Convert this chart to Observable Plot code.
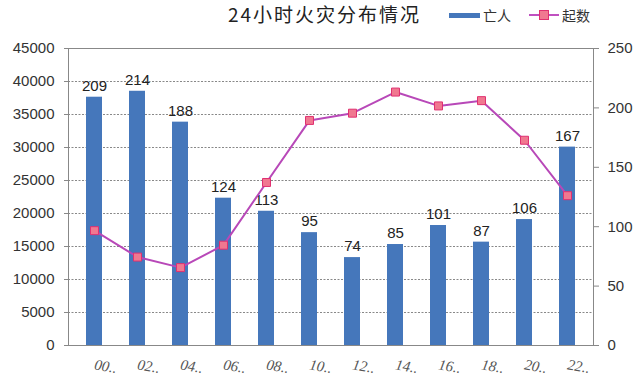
<!DOCTYPE html>
<html>
<head>
<meta charset="utf-8">
<script src="https://cdn.jsdelivr.net/npm/d3@7"></script>
<script src="https://cdn.jsdelivr.net/npm/@observablehq/plot@0.6"></script>
<style>
  body { margin: 0; background: #fff; font-family: "Liberation Sans", Arial, sans-serif; }
  #wrap { position: relative; width: 640px; height: 387px; }
  #title { position: absolute; left: 228px; top: 0px; font-family: "Noto Sans CJK SC", sans-serif; font-size: 19px; letter-spacing: 2px; color: #222; }
  #legend { position: absolute; left: 449px; top: 5px; font-family: "Noto Sans CJK SC", sans-serif; font-size: 14px; color: #333; display: flex; align-items: center; }
  .sw-bar { display: inline-block; width: 31px; height: 5px; background: #4577bb; margin-right: 3px; }
  .sw-line { display: inline-block; position: relative; width: 30px; height: 10px; margin-left: 18px; margin-right: 3px; }
  .sw-line::before { content: ""; position: absolute; left: 0; right: 0; top: 4px; height: 2px; background: #c050c0; }
  .sw-line::after { content: ""; position: absolute; left: 10px; top: 0; width: 8px; height: 8px; background: #f07890; border: 1px solid #e03070; }
  svg { position: absolute; left: 0; top: 0; }
</style>
</head>
<body>
<div id="wrap">
  <div id="chart"></div>
  <div id="title">24小时火灾分布情况</div>
  <div id="legend"><span class="sw-bar"></span>亡人<span class="sw-line"></span>起数</div>
</div>
<script>
const hours = ["00..", "02..", "04..", "06..", "08..", "10..", "12..", "14..", "16..", "18..", "20..", "22.."];
const deaths = [209, 214, 188, 124, 113, 95, 74, 85, 101, 87, 106, 167];
const fires = [17400, 13400, 11800, 15200, 24700, 34100, 35200, 38400, 36300, 37100, 31100, 22700];
const leftTicks = [0, 5000, 10000, 15000, 20000, 25000, 30000, 35000, 40000, 45000];
const rightTicks = [0, 50, 100, 150, 200, 250];

const k = 45000 / 250; // right axis → left axis units
const rows = hours.map((h, i) => ({hour: h, deaths: deaths[i], deathsY: deaths[i] * k, fires: fires[i]}));

const chart = Plot.plot({
  width: 640,
  height: 387,
  marginTop: 48,
  marginBottom: 42,
  marginLeft: 68,
  marginRight: 47,
  style: {fontFamily: "'Liberation Sans', Arial, sans-serif", background: "transparent"},
  x: {type: "band", domain: hours, paddingInner: 0.62, paddingOuter: 0.31},
  y: {domain: [0, 45000]},
  marks: [
    Plot.ruleY(leftTicks.slice(1, -1), {stroke: "#888", strokeDasharray: "2,1.5", strokeWidth: 1}),
    Plot.barY(rows, {x: "hour", y: "deathsY", fill: "#4577bb"}),
    Plot.text(rows, {x: "hour", y: "deathsY", text: d => String(d.deaths), dy: -11, fontSize: 15, fill: "#222"}),
    Plot.line(rows, {x: "hour", y: "fires", stroke: "#b848b8", strokeWidth: 2}),
    Plot.dot(rows, {x: "hour", y: "fires", symbol: "square", r: 4.5, fill: "#f07890", stroke: "#e03070", strokeWidth: 1}),
    Plot.frame({stroke: "#888"}),
    Plot.axisY({anchor: "left", ticks: leftTicks, tickFormat: d => String(d), tickSize: 4, tickPadding: 10, fontSize: 15, color: "#333", stroke: "#888", label: null}),
    Plot.axisY({anchor: "right", ticks: rightTicks.map(v => v * k), tickFormat: d => String(Math.round(d / k)), tickSize: 5, tickPadding: 9, fontSize: 15, color: "#333", stroke: "#888", label: null}),
    Plot.axisX({tickSize: 0, tickPadding: 19, tickRotate: 10, fontSize: 15, fontStyle: "italic", color: "#555", label: null, fontFamily: "'Liberation Serif', serif"})
  ]
});
document.getElementById("chart").appendChild(chart);
</script>
</body>
</html>
